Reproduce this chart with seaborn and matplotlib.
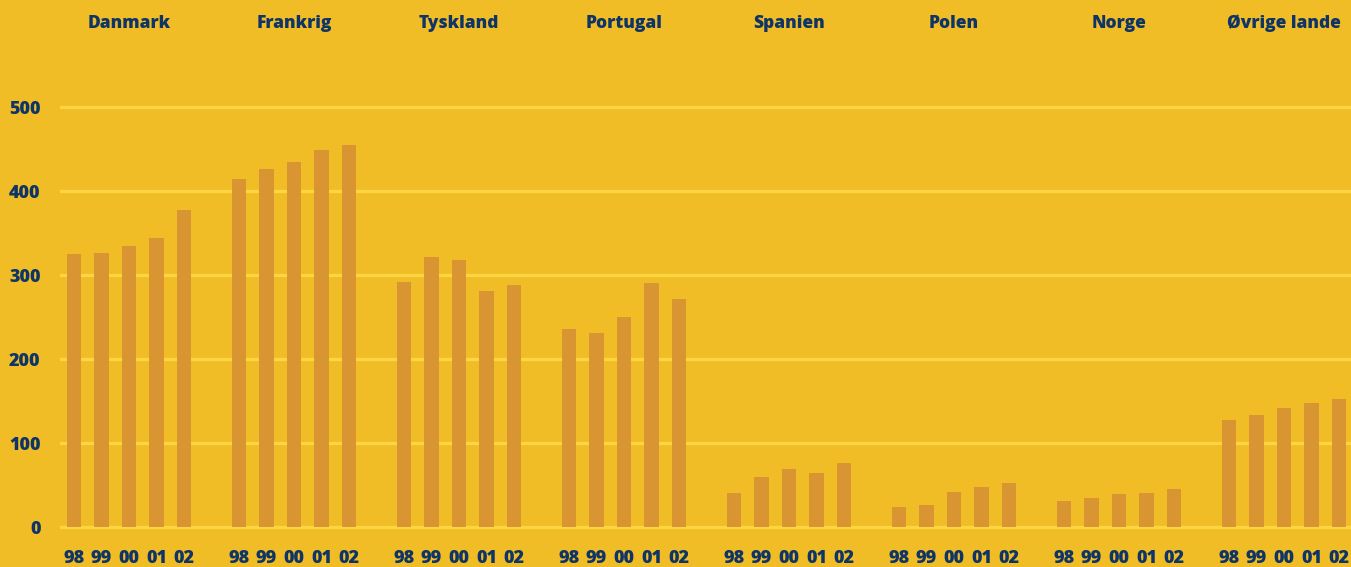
import numpy as np
import pandas as pd
import matplotlib
matplotlib.use("Agg")
import matplotlib.pyplot as plt
import matplotlib.transforms as mtransforms
import seaborn as sns

# data
countries = ["Danmark", "Frankrig", "Tyskland", "Portugal", "Spanien", "Polen", "Norge", "Øvrige lande"]
years = ["98", "99", "00", "01", "02"]
danmark = [325, 326, 334, 344, 377]
frankrig = [414, 426, 434, 449, 455]
tyskland = [292, 321, 318, 281, 288]
portugal = [236, 231, 250, 290, 271]
spanien = [40, 59, 69, 64, 76]
polen = [24, 26, 42, 48, 52]
norge = [31, 34, 39, 40, 45]
oevrige = [127, 133, 142, 148, 152]
yticks = [0, 100, 200, 300, 400, 500]

series = [danmark, frankrig, tyskland, portugal, spanien, polen, norge, oevrige]

rows = []
for g, (land, vals) in enumerate(zip(countries, series)):
    for i, (yr, v) in enumerate(zip(years, vals)):
        rows.append({"Land": land, "År": yr, "pos": g * 6 + i, "Værdi": v})
df = pd.DataFrame(rows)

BG = "#F0BD26"
BAR = "#DA9533"
GRID = "#FDD542"
NAVY = "#0F3466"
WEIGHT = 800

sns.set_theme(style="white")
plt.rcParams["font.family"] = ["Open Sans", "DejaVu Sans"]

W, H = 1351, 567
fig = plt.figure(figsize=(W / 100, H / 100), dpi=100, facecolor=BG)

# pixel layout: y=0 at 527px, y=500 at 107px; slot 0 centre at 74px, 27.5px per slot
px_per_unit = 420 / 500
ymin, ymax = -5, 560
ax_bottom = (H - 527 - (0 - ymin) * px_per_unit) / H
ax_height = (ymax - ymin) * px_per_unit / H
ax_left = 60 / W
ax = fig.add_axes([ax_left, ax_bottom, 1 - ax_left, ax_height])
ax.set_facecolor(BG)

sns.barplot(data=df, x="pos", y="Værdi", native_scale=True, width=0.51,
            color=BAR, saturation=1, linewidth=0, edgecolor=BAR, ax=ax, zorder=3)

slot = 27.5
xleft = -(74 - 60) / slot
ax.set_xlim(xleft, xleft + (W - 60) / slot)
ax.set_ylim(ymin, ymax)

ax.set_yticks(yticks)
ax.set_yticklabels([str(t) for t in yticks])
ax.yaxis.grid(True, color=GRID, linewidth=2.3)
ax.set_axisbelow(True)
ax.xaxis.grid(False)

ax.set_xticks(df["pos"])
ax.set_xticklabels(df["År"])
ax.tick_params(axis="x", length=0, pad=13.5, labelsize=13, labelcolor=NAVY)
ax.tick_params(axis="y", length=0, pad=14, labelsize=13, labelcolor=NAVY)
for lab in ax.get_xticklabels() + ax.get_yticklabels():
    lab.set_fontweight(WEIGHT)

for s in ax.spines.values():
    s.set_visible(False)
ax.set_xlabel("")
ax.set_ylabel("")

trans = mtransforms.blended_transform_factory(ax.transData, fig.transFigure)
for g, land in enumerate(countries):
    ax.text(g * 6 + 2, 1 - 23 / H, land, transform=trans, ha="center", va="center",
            fontsize=12.5, fontweight=WEIGHT, color=NAVY)

fig.savefig("out.png", dpi=100, facecolor=BG)
